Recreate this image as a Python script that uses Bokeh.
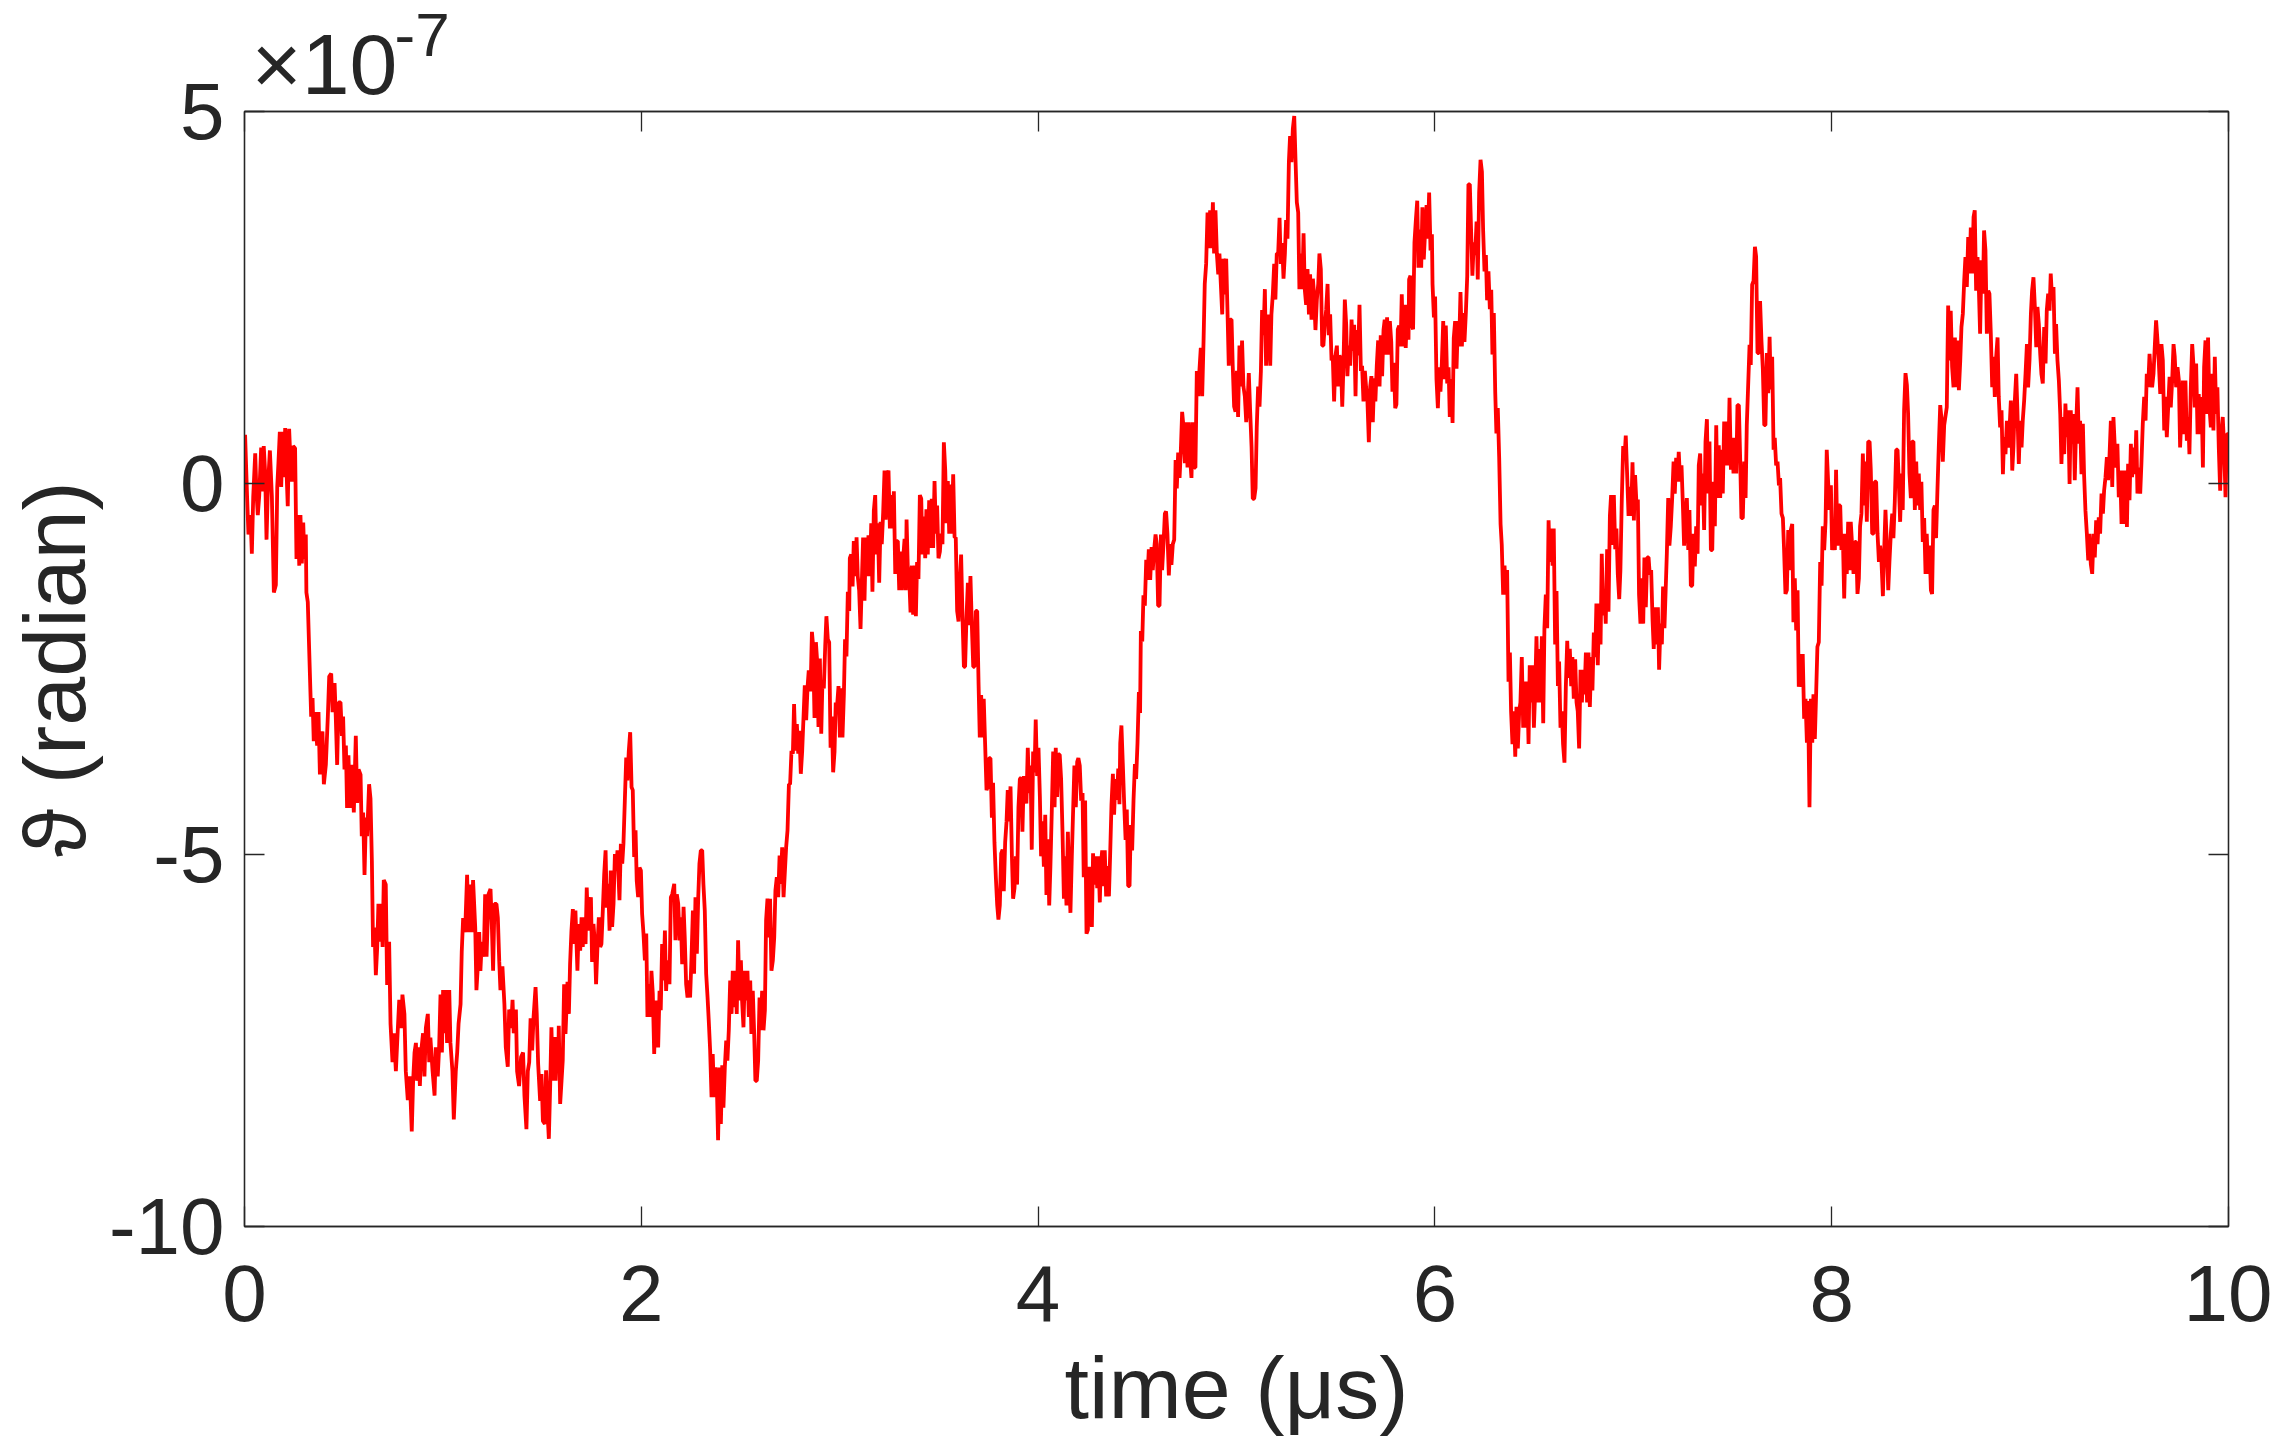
from bokeh.plotting import figure
from bokeh.models import Range1d, FixedTicker, LinearAxis, Title, ColumnDataSource
from bokeh.embed import file_html
from bokeh.resources import INLINE

# (time in microseconds, theta in units of 1e-7 rad)
seg_a = [(0.000,0.47),(0.003,0.65),(0.013,-0.18),(0.020,-0.69),(0.030,-0.43),(0.037,-0.95),(0.044,-0.18),(0.054,0.40),(0.060,-0.11),(0.067,-0.43),(0.074,-0.18),(0.084,0.48),(0.091,-0.11),(0.097,0.50),(0.104,0.15),(0.111,-0.76),(0.118,-0.05),(0.128,0.44),(0.138,-0.18),(0.148,-1.47),(0.158,-1.37),(0.165,-0.05),(0.171,0.27),(0.178,0.69),(0.185,-0.05),(0.192,0.69),(0.198,0.08),(0.205,0.74),(0.212,0.15),(0.218,-0.31),(0.225,0.73),(0.232,0.27),(0.239,0.02),(0.245,0.50),(0.255,0.47),(0.262,-1.02),(0.269,-0.43),(0.276,-1.11),(0.282,-0.43),(0.289,-1.08),(0.296,-0.53),(0.302,-1.02),(0.309,-0.69),(0.312,-1.47),(0.319,-1.60),(0.326,-2.24),(0.336,-3.14),(0.343,-2.89),(0.349,-3.47),(0.356,-3.08),(0.366,-3.53),(0.373,-3.08),(0.380,-3.92),(0.386,-3.40),(0.393,-3.34),(0.400,-4.05),(0.410,-3.79),(0.420,-3.14),(0.427,-2.60),(0.437,-2.56),(0.444,-3.08),(0.454,-2.69),(0.460,-3.14),(0.467,-3.79),(0.474,-2.95),(0.484,-2.95),(0.491,-3.40),(0.497,-3.14),(0.504,-3.85),(0.511,-3.53),(0.517,-4.37),(0.524,-3.66),(0.531,-4.37),(0.541,-3.79),(0.551,-4.43),(0.561,-3.40),(0.568,-4.30),(0.575,-3.85),(0.585,-3.92),(0.591,-4.75),(0.598,-4.43),(0.605,-5.27),(0.612,-4.50),(0.618,-4.75),(0.628,-4.05),(0.635,-4.24),(0.642,-5.08),(0.648,-6.24),(0.655,-5.98),(0.662,-6.62),(0.669,-6.24),(0.675,-5.66),(0.682,-6.17),(0.689,-5.66),(0.696,-6.24),(0.702,-5.34),(0.712,-5.40),(0.719,-6.75),(0.729,-6.17),(0.736,-7.27),(0.746,-7.79),(0.753,-7.40),(0.763,-7.91),(0.773,-7.33),(0.780,-6.95),(0.790,-7.33),(0.796,-6.88),(0.806,-7.14),(0.813,-7.91),(0.823,-8.30),(0.833,-7.98),(0.843,-8.72),(0.850,-8.04),(0.857,-7.66),(0.864,-7.53),(0.870,-8.04),(0.877,-7.59),(0.884,-8.11),(0.890,-7.66),(0.900,-7.40),(0.907,-7.98),(0.914,-7.33),(0.924,-7.14),(0.931,-7.79),(0.937,-7.46),(0.948,-7.91),(0.958,-8.24),(0.964,-7.59),(0.974,-7.98),(0.981,-7.59),(0.988,-6.88),(0.995,-7.66),(1.001,-6.82),(1.008,-7.40),(1.015,-6.82),(1.021,-7.53),(1.032,-6.82),(1.038,-7.53),(1.048,-7.91),(1.055,-8.56),(1.065,-7.91),(1.072,-7.66),(1.079,-7.27),(1.089,-7.01),(1.095,-6.30),(1.102,-5.85),(1.112,-6.04),(1.122,-5.27),(1.129,-6.04),(1.139,-5.40),(1.146,-6.04),(1.152,-5.34),(1.163,-5.98),(1.169,-6.82),(1.176,-6.50),(1.183,-6.04),(1.189,-6.56),(1.196,-6.17),(1.206,-6.37),(1.213,-5.53),(1.220,-6.37),(1.230,-5.53),(1.240,-5.46),(1.247,-5.98),(1.253,-6.56),(1.260,-5.66),(1.270,-5.66),(1.277,-5.85),(1.284,-6.43),(1.290,-6.82),(1.300,-6.50),(1.310,-7.01),(1.317,-7.59),(1.327,-7.85),(1.334,-7.08),(1.344,-7.33),(1.351,-6.95),(1.357,-7.40),(1.368,-7.08),(1.374,-7.91),(1.384,-8.11),(1.394,-7.72),(1.404,-7.66),(1.411,-8.24),(1.421,-8.69),(1.428,-7.91),(1.435,-7.79),(1.442,-7.20)]

seg_b = [(1.450,-7.63),(1.457,-7.18),(1.467,-6.78),(1.473,-7.14),(1.480,-7.81),(1.490,-8.31),(1.497,-7.95),(1.504,-8.58),(1.514,-8.62),(1.520,-7.90),(1.527,-8.44),(1.534,-8.82),(1.541,-8.08),(1.547,-7.32),(1.554,-8.04),(1.561,-7.45),(1.568,-8.04),(1.574,-7.45),(1.581,-7.90),(1.584,-7.30),(1.591,-8.35),(1.598,-8.04),(1.604,-7.77),(1.611,-6.74),(1.618,-7.41),(1.628,-6.71),(1.635,-7.14),(1.641,-6.47),(1.648,-6.02),(1.655,-5.73),(1.662,-6.20),(1.668,-5.75),(1.678,-6.56),(1.685,-5.93),(1.692,-6.29),(1.699,-5.84),(1.705,-6.24),(1.712,-5.84),(1.719,-6.20),(1.725,-5.44),(1.732,-6.02),(1.739,-5.75),(1.746,-5.57),(1.752,-6.44),(1.759,-5.93),(1.766,-6.20),(1.772,-6.74),(1.779,-6.24),(1.786,-5.84),(1.793,-6.24),(1.799,-6.20),(1.806,-5.75),(1.813,-5.26),(1.820,-4.94),(1.826,-5.71),(1.833,-5.39),(1.840,-6.02),(1.846,-5.21),(1.853,-5.97),(1.860,-5.66),(1.867,-4.99),(1.873,-5.21),(1.880,-4.94),(1.890,-5.61),(1.897,-4.85),(1.904,-5.12),(1.910,-4.85),(1.917,-4.27),(1.924,-3.69),(1.930,-4.00),(1.937,-3.60),(1.944,-3.35),(1.951,-4.09),(1.957,-4.13),(1.964,-5.03),(1.971,-4.67),(1.977,-5.35),(1.984,-5.57),(1.991,-5.17),(1.998,-5.21),(2.004,-5.79),(2.011,-6.06),(2.018,-6.42),(2.025,-6.06),(2.031,-7.18),(2.038,-6.74),(2.045,-7.18),(2.051,-6.56),(2.058,-6.87),(2.065,-7.68),(2.072,-6.96),(2.078,-7.18),(2.085,-7.59),(2.092,-6.83),(2.098,-7.09),(2.105,-6.20),(2.112,-6.69),(2.119,-6.02),(2.125,-6.83),(2.132,-6.42),(2.142,-6.74),(2.149,-5.57),(2.156,-5.53),(2.166,-5.39),(2.172,-6.15),(2.179,-5.53),(2.186,-5.66),(2.193,-6.15),(2.199,-5.84),(2.206,-6.47),(2.213,-5.70),(2.219,-6.11),(2.226,-6.74),(2.233,-6.92),(2.240,-6.69),(2.246,-6.92),(2.253,-6.38),(2.260,-5.75),(2.266,-6.60),(2.273,-5.57),(2.280,-6.33),(2.287,-5.57),(2.293,-5.12),(2.300,-4.94),(2.307,-4.94),(2.313,-5.39),(2.320,-5.75),(2.327,-6.60),(2.334,-6.92),(2.340,-7.23),(2.347,-7.63),(2.354,-8.26),(2.360,-7.68),(2.367,-8.26),(2.374,-7.86),(2.381,-8.13),(2.387,-8.84),(2.394,-7.86),(2.401,-8.62),(2.408,-7.83),(2.414,-8.40),(2.421,-7.86),(2.428,-7.50),(2.434,-7.77),(2.441,-7.36),(2.448,-6.69),(2.455,-7.14),(2.461,-6.56),(2.468,-7.05),(2.475,-6.56),(2.481,-7.14),(2.488,-6.15),(2.495,-6.96),(2.502,-6.42),(2.508,-6.96),(2.515,-7.32),(2.522,-6.56),(2.528,-6.96),(2.535,-6.56),(2.542,-7.18),(2.549,-6.69),(2.555,-7.41),(2.562,-6.83),(2.569,-7.41),(2.575,-8.04),(2.582,-8.04),(2.589,-7.77),(2.596,-6.92),(2.602,-7.36),(2.609,-6.83),(2.616,-7.36),(2.623,-7.09),(2.629,-5.88),(2.636,-5.59),(2.643,-6.11),(2.649,-5.59),(2.656,-6.56),(2.663,-6.42),(2.670,-6.11),(2.676,-5.48),(2.683,-5.30),(2.690,-5.57),(2.697,-5.01),(2.703,-5.39),(2.710,-4.90),(2.717,-5.57),(2.723,-5.26),(2.730,-4.90),(2.737,-4.67),(2.744,-4.05),(2.750,-4.05),(2.757,-3.60),(2.764,-3.64),(2.770,-2.97),(2.777,-3.60),(2.784,-3.24),(2.791,-3.64),(2.797,-3.33),(2.804,-3.91),(2.811,-3.60),(2.817,-3.19),(2.824,-2.72),(2.831,-3.19),(2.838,-2.74),(2.844,-2.52)]

seg_c = [(2.853,-2.80),(2.860,-2.00),(2.866,-2.19),(2.873,-3.16),(2.880,-2.14),(2.886,-2.38),(2.893,-3.28),(2.900,-2.36),(2.907,-3.37),(2.913,-2.66),(2.920,-2.76),(2.927,-2.19),(2.933,-1.79),(2.940,-2.10),(2.947,-2.14),(2.954,-3.56),(2.960,-3.14),(2.967,-3.89),(2.974,-3.61),(2.980,-2.95),(2.987,-2.99),(2.994,-2.73),(3.001,-3.42),(3.007,-2.76),(3.014,-3.42),(3.021,-2.85),(3.027,-2.10),(3.034,-2.33),(3.041,-1.46),(3.048,-1.72),(3.051,-1.01),(3.058,-0.96),(3.065,-1.39),(3.071,-0.78),(3.078,-1.25),(3.085,-0.73),(3.091,-1.25),(3.098,-1.44),(3.105,-1.96),(3.112,-1.29),(3.118,-0.73),(3.125,-1.58),(3.132,-0.73),(3.138,-1.25),(3.145,-0.70),(3.152,-1.25),(3.159,-0.54),(3.165,-1.46),(3.172,-0.37),(3.179,-0.16),(3.185,-0.96),(3.192,-0.54),(3.199,-1.34),(3.206,-0.52),(3.212,-0.82),(3.219,-0.40),(3.226,0.17),(3.232,-0.49),(3.239,0.10),(3.246,0.17),(3.253,-0.61),(3.259,-0.16),(3.266,-0.61),(3.273,-0.11),(3.280,-1.22),(3.286,-0.78),(3.293,-0.78),(3.300,-1.44),(3.306,-0.92),(3.313,-1.44),(3.320,-1.01),(3.327,-0.75),(3.333,-1.44),(3.337,-0.49),(3.343,-1.11),(3.350,-1.25),(3.357,-1.74),(3.364,-1.11),(3.370,-1.77),(3.377,-1.11),(3.384,-1.79),(3.390,-1.06),(3.397,-1.29),(3.404,-0.16),(3.411,-0.21),(3.417,-0.96),(3.424,-0.45),(3.431,-1.01),(3.437,-0.35),(3.444,-0.96),(3.451,-0.23),(3.458,-0.87),(3.464,-0.21),(3.471,-0.87),(3.478,0.03),(3.485,-0.68),(3.491,-0.30),(3.498,-1.01),(3.505,-0.92),(3.511,-0.68),(3.518,-0.82),(3.525,0.55),(3.532,0.17),(3.538,-0.54),(3.545,0.03),(3.552,-0.68),(3.558,-0.02),(3.565,-0.68),(3.572,0.12),(3.579,-0.73),(3.585,-0.73),(3.592,-1.72),(3.599,-1.86),(3.605,-1.34),(3.612,-0.96),(3.619,-1.81),(3.626,-2.47),(3.632,-2.47),(3.639,-1.81),(3.646,-1.34),(3.652,-1.91),(3.659,-1.25),(3.666,-1.91),(3.673,-2.47),(3.679,-2.47),(3.686,-1.72),(3.693,-1.72),(3.700,-2.71),(3.706,-3.42),(3.713,-2.85),(3.720,-3.42),(3.726,-2.90),(3.733,-3.51),(3.740,-4.13),(3.747,-4.08),(3.753,-3.70),(3.760,-3.70),(3.767,-4.50),(3.773,-4.03),(3.780,-4.83),(3.787,-5.30),(3.794,-5.68),(3.800,-5.87),(3.807,-5.68),(3.814,-4.98),(3.821,-4.93),(3.827,-5.49),(3.834,-4.83),(3.841,-4.55),(3.847,-4.13),(3.854,-4.55),(3.861,-4.08),(3.868,-5.02),(3.874,-5.59),(3.881,-5.45),(3.888,-5.02),(3.894,-5.40),(3.901,-4.36),(3.908,-3.98),(3.915,-3.96),(3.921,-4.69),(3.928,-3.94),(3.935,-4.03),(3.941,-4.31),(3.948,-3.56),(3.955,-4.17),(3.962,-3.80),(3.968,-4.93),(3.975,-3.61),(3.982,-3.89),(3.988,-3.18),(3.995,-3.94),(4.002,-3.56),(4.009,-4.22),(4.015,-5.02),(4.022,-4.55),(4.029,-5.16),(4.036,-4.46),(4.042,-5.54),(4.049,-4.79),(4.056,-5.68),(4.062,-5.16),(4.069,-4.41),(4.076,-3.61),(4.083,-4.36),(4.089,-3.56),(4.096,-4.22),(4.103,-3.65),(4.109,-3.65),(4.116,-3.98),(4.123,-4.69),(4.130,-5.59),(4.136,-5.02),(4.143,-5.68),(4.150,-4.69),(4.156,-5.30),(4.163,-5.78),(4.170,-5.02),(4.177,-4.36),(4.183,-3.80),(4.190,-4.36),(4.197,-3.75),(4.203,-3.70),(4.210,-3.80),(4.217,-4.27),(4.224,-4.17),(4.230,-5.30),(4.237,-4.27),(4.244,-6.06),(4.251,-6.01),(4.257,-5.16),(4.264,-5.49),(4.271,-5.97),(4.277,-4.98),(4.284,-5.40),(4.291,-5.02),(4.298,-5.45),(4.304,-5.02),(4.311,-5.64)]

seg_d = [(4.316,-5.15),(4.323,-4.94),(4.330,-5.42),(4.336,-4.94),(4.343,-5.56),(4.350,-5.15),(4.357,-5.56),(4.363,-5.01),(4.370,-4.32),(4.377,-3.91),(4.383,-4.46),(4.390,-3.98),(4.397,-4.26),(4.404,-3.84),(4.410,-4.32),(4.414,-3.50),(4.420,-3.26),(4.427,-3.78),(4.434,-4.32),(4.441,-4.80),(4.447,-4.39),(4.454,-5.42),(4.461,-5.42),(4.467,-4.60),(4.474,-4.94),(4.481,-4.26),(4.488,-3.78),(4.494,-3.98),(4.501,-3.50),(4.508,-2.81),(4.514,-3.09),(4.518,-1.99),(4.525,-2.13),(4.531,-1.51),(4.538,-1.65),(4.545,-1.03),(4.551,-1.30),(4.558,-0.89),(4.565,-1.30),(4.572,-0.86),(4.578,-1.17),(4.585,-0.89),(4.592,-0.69),(4.598,-0.82),(4.605,-1.65),(4.612,-1.65),(4.619,-0.69),(4.625,-1.17),(4.632,-0.82),(4.639,-0.41),(4.645,-0.38),(4.652,-0.69),(4.659,-1.24),(4.666,-0.82),(4.672,-1.10),(4.679,-0.82),(4.686,-0.76),(4.693,0.31),(4.699,-0.07),(4.706,0.41),(4.713,0.07),(4.719,0.41),(4.726,0.96),(4.733,0.75),(4.740,0.27),(4.746,0.82),(4.753,0.21),(4.760,0.82),(4.766,0.34),(4.773,0.07),(4.780,0.82),(4.787,0.21),(4.793,0.21),(4.800,1.51),(4.807,1.17),(4.813,1.51),(4.820,1.82),(4.827,1.17),(4.834,1.92),(4.840,2.68),(4.847,2.95),(4.854,3.64),(4.860,3.16),(4.867,3.67),(4.874,3.16),(4.881,3.78),(4.887,3.09),(4.894,3.67),(4.901,3.09),(4.908,2.81),(4.914,3.09),(4.921,2.68),(4.928,2.27),(4.934,3.02),(4.941,2.54),(4.948,3.02),(4.955,2.27),(4.961,1.58),(4.968,2.20),(4.975,2.20),(4.981,1.58),(4.988,1.03),(4.995,0.96),(5.002,1.51),(5.008,0.89),(5.015,1.85),(5.022,1.30),(5.028,1.92),(5.035,1.30),(5.042,1.17),(5.049,0.82),(5.055,1.03),(5.062,1.48),(5.069,0.96),(5.076,0.48),(5.082,-0.21),(5.089,-0.21),(5.096,-0.07),(5.102,0.75),(5.109,1.30),(5.116,1.03),(5.123,1.51),(5.129,2.33),(5.136,1.99),(5.143,2.61),(5.149,1.58),(5.156,2.13),(5.163,2.27),(5.170,1.58),(5.176,2.27),(5.183,2.54),(5.190,2.95),(5.196,2.47),(5.203,3.09),(5.210,3.09),(5.217,3.57),(5.223,2.95),(5.230,3.23),(5.237,2.75),(5.244,3.09),(5.250,3.54),(5.257,3.29),(5.264,4.32),(5.270,4.67),(5.277,4.32),(5.284,4.77),(5.291,4.94),(5.297,4.39),(5.304,3.78),(5.311,3.64),(5.317,2.61),(5.324,3.09),(5.331,2.61),(5.338,3.36),(5.344,2.61),(5.351,2.40),(5.358,2.88),(5.365,2.27),(5.371,2.81),(5.378,2.20),(5.385,2.75),(5.391,2.54),(5.398,2.06),(5.405,2.47),(5.412,2.68),(5.418,3.09),(5.425,2.88),(5.432,1.85),(5.438,1.85),(5.445,2.13),(5.452,2.33),(5.459,2.68),(5.465,1.99),(5.472,2.27),(5.479,1.65),(5.485,1.72),(5.492,1.10),(5.499,1.72),(5.506,1.85),(5.512,1.30),(5.519,1.72),(5.526,1.65),(5.533,1.03),(5.539,1.58),(5.546,2.47),(5.553,2.13),(5.559,1.44),(5.566,1.85),(5.573,1.58),(5.580,2.20),(5.586,1.78),(5.593,2.13),(5.600,1.17),(5.606,2.06),(5.613,1.72),(5.620,2.40),(5.627,1.51),(5.633,1.58),(5.640,1.10),(5.647,1.51),(5.653,1.30),(5.660,1.10),(5.667,0.55),(5.674,1.30),(5.680,1.44),(5.687,0.82),(5.694,1.41),(5.700,1.10),(5.707,1.58),(5.714,1.92),(5.721,1.30),(5.727,1.99),(5.734,1.44),(5.741,2.06),(5.747,2.20)]

seg_e = [(5.753,1.73),(5.759,2.23),(5.766,1.73),(5.773,2.18),(5.780,1.90),(5.786,1.23),(5.793,1.62),(5.800,1.01),(5.806,1.06),(5.813,2.07),(5.820,2.12),(5.827,1.84),(5.833,2.54),(5.840,1.84),(5.847,2.40),(5.853,1.82),(5.860,2.40),(5.867,1.93),(5.870,2.74),(5.877,2.79),(5.884,2.12),(5.890,2.07),(5.897,3.24),(5.904,3.54),(5.911,3.80),(5.917,2.90),(5.924,3.41),(5.931,2.90),(5.937,3.71),(5.944,3.01),(5.951,3.41),(5.958,3.74),(5.964,3.29),(5.971,3.91),(5.978,3.13),(5.985,3.35),(5.988,2.68),(5.995,2.23),(6.001,2.51),(6.008,1.40),(6.015,1.01),(6.022,1.56),(6.028,1.23),(6.035,1.62),(6.042,2.18),(6.048,1.40),(6.055,2.12),(6.062,1.34),(6.069,1.56),(6.075,0.89),(6.082,1.40),(6.089,0.81),(6.095,1.95),(6.102,2.18),(6.109,1.54),(6.116,2.18),(6.122,1.84),(6.129,2.57),(6.136,1.84),(6.142,2.29),(6.149,1.90),(6.156,2.29),(6.163,2.79),(6.169,4.02),(6.176,4.02),(6.183,3.35),(6.189,2.79),(6.196,3.24),(6.203,3.07),(6.210,3.52),(6.216,2.74),(6.223,3.91),(6.230,4.35),(6.237,4.19),(6.243,3.41),(6.250,2.85),(6.257,3.07),(6.263,2.46),(6.270,2.85),(6.277,2.34),(6.284,2.60),(6.290,1.73),(6.297,2.29),(6.304,1.23),(6.310,0.67),(6.317,1.01),(6.324,0.34),(6.331,-0.55),(6.337,-0.83),(6.344,-1.50),(6.351,-1.11),(6.357,-1.50),(6.364,-1.17),(6.371,-2.67),(6.378,-2.28),(6.384,-3.07),(6.391,-3.51),(6.398,-3.07),(6.405,-3.68),(6.411,-3.01),(6.418,-3.57),(6.425,-3.07),(6.431,-2.95),(6.438,-2.34),(6.445,-3.29),(6.452,-2.67),(6.458,-3.29),(6.465,-2.67),(6.472,-3.51),(6.478,-2.45),(6.485,-2.95),(6.492,-2.45),(6.499,-3.29),(6.505,-2.84),(6.512,-2.06),(6.519,-2.95),(6.525,-2.23),(6.532,-2.95),(6.539,-2.06),(6.546,-3.23),(6.552,-1.95),(6.559,-1.50),(6.566,-1.95),(6.573,-0.50),(6.579,-1.06),(6.586,-0.61),(6.593,-1.11),(6.599,-0.61),(6.606,-2.17),(6.613,-1.45),(6.620,-2.73),(6.626,-2.40),(6.633,-3.29),(6.640,-3.07),(6.646,-3.51),(6.653,-3.76),(6.660,-2.73),(6.667,-2.12),(6.673,-2.62),(6.680,-2.23),(6.687,-2.73),(6.693,-2.34),(6.700,-2.90),(6.707,-2.37),(6.714,-2.95),(6.720,-3.07),(6.727,-3.57),(6.734,-2.51),(6.741,-2.95),(6.747,-2.51),(6.754,-2.84),(6.761,-2.28),(6.767,-2.95),(6.774,-2.28),(6.781,-3.01),(6.788,-2.34),(6.794,-2.79),(6.801,-2.01),(6.808,-2.34),(6.814,-1.62),(6.821,-2.45),(6.828,-1.62),(6.835,-2.17),(6.841,-0.95),(6.848,-1.78),(6.855,-1.45),(6.861,-1.89),(6.868,-0.89),(6.875,-1.73),(6.882,-0.44),(6.888,-0.16),(6.895,-0.83),(6.902,-0.16),(6.909,-0.89),(6.915,-0.61),(6.922,-1.23),(6.929,-1.56),(6.935,-1.17),(6.942,-0.22),(6.949,0.50),(6.956,0.34),(6.962,0.64),(6.969,0.11),(6.976,-0.44),(6.982,-0.05),(6.989,-0.44),(6.996,0.28),(7.003,-0.50),(7.009,0.11),(7.016,-0.28),(7.023,-0.22),(7.029,-1.50),(7.036,-1.89),(7.043,-1.28),(7.050,-1.89),(7.056,-1.00),(7.063,-1.67),(7.070,-1.00),(7.077,-1.00),(7.083,-1.23),(7.090,-1.17),(7.097,-1.84),(7.103,-2.23),(7.110,-1.67),(7.117,-2.17),(7.124,-1.67),(7.130,-2.51),(7.137,-1.89),(7.144,-2.17),(7.150,-1.39),(7.157,-1.95)]

seg_f = [(7.169,-0.95),(7.176,-0.20),(7.182,-0.84),(7.189,-0.58),(7.196,-0.20),(7.203,0.29),(7.209,-0.14),(7.216,0.34),(7.223,0.02),(7.229,0.42),(7.236,0.02),(7.243,0.24),(7.250,-0.30),(7.256,-0.84),(7.263,-0.47),(7.270,-0.20),(7.277,-0.90),(7.283,-0.36),(7.290,-1.38),(7.297,-1.38),(7.303,-0.68),(7.310,-1.12),(7.317,-0.58),(7.324,-0.95),(7.330,0.24),(7.337,0.40),(7.344,-0.30),(7.350,0.13),(7.357,-0.63),(7.364,0.56),(7.371,0.86),(7.377,-0.14),(7.384,0.56),(7.391,-0.90),(7.398,-0.90),(7.404,0.02),(7.411,-0.58),(7.418,0.78),(7.424,-0.20),(7.431,0.51),(7.438,-0.20),(7.445,0.45),(7.451,-0.14),(7.458,0.83),(7.465,0.24),(7.471,0.83),(7.478,0.24),(7.485,1.15),(7.492,0.18),(7.498,0.61),(7.505,0.13),(7.512,0.61),(7.519,0.13),(7.525,1.05),(7.532,1.05),(7.539,0.29),(7.545,-0.47),(7.552,-0.47),(7.559,0.29),(7.566,-0.20),(7.572,0.78),(7.579,1.32),(7.586,1.86),(7.592,1.59),(7.599,2.67),(7.606,2.72),(7.613,3.18),(7.619,3.05),(7.626,1.75),(7.633,1.75),(7.639,2.45),(7.646,1.91),(7.653,1.53),(7.660,0.78),(7.666,0.78),(7.673,1.75),(7.680,1.21),(7.687,1.97),(7.693,1.26),(7.700,1.70),(7.707,0.45),(7.713,0.61),(7.720,0.24),(7.727,0.29),(7.734,-0.03),(7.740,0.07),(7.747,-0.41),(7.754,-0.47),(7.760,-0.90),(7.767,-1.49),(7.774,-1.44),(7.781,-0.63),(7.787,-1.17),(7.794,-0.63),(7.801,-0.55),(7.807,-1.87),(7.814,-1.28),(7.821,-1.98),(7.828,-1.44),(7.834,-2.74),(7.841,-2.30),(7.848,-2.74),(7.854,-2.30),(7.861,-3.17),(7.868,-2.90),(7.875,-3.49),(7.881,-2.93),(7.888,-4.36),(7.895,-2.90),(7.902,-3.49),(7.908,-2.84),(7.915,-3.44),(7.922,-2.79),(7.928,-2.20),(7.935,-2.14),(7.942,-1.06),(7.949,-1.38),(7.955,-0.58),(7.962,-0.90),(7.969,-0.52),(7.975,0.45),(7.982,0.02),(7.989,-0.36),(7.996,-0.03),(8.002,-0.90),(8.009,-0.63),(8.016,-0.90),(8.022,0.18),(8.029,-0.84),(8.036,-0.30),(8.043,-0.30),(8.049,-0.90),(8.056,-0.68),(8.063,-1.55),(8.070,-0.68),(8.076,-1.22),(8.083,-0.52),(8.090,-1.17),(8.096,-0.52),(8.103,-0.84),(8.110,-1.22),(8.117,-0.79),(8.123,-0.79),(8.130,-1.49),(8.137,-1.28),(8.143,-0.58),(8.150,-0.41),(8.157,0.40),(8.164,-0.30),(8.170,0.29),(8.177,-0.52),(8.184,0.56),(8.191,0.56),(8.197,0.18),(8.204,-0.68),(8.211,-0.68),(8.217,0.02),(8.224,0.02),(8.231,-0.68),(8.238,-1.06),(8.244,-0.84),(8.251,-1.06),(8.258,-1.52),(8.264,-0.95),(8.271,-0.36),(8.278,-0.84),(8.285,-1.44),(8.291,-1.06),(8.298,-0.68),(8.305,-0.41),(8.311,-0.74),(8.318,-0.25),(8.325,0.45),(8.332,0.45),(8.338,0.02),(8.345,-0.52),(8.352,0.13),(8.358,-0.36),(8.365,0.99),(8.372,1.48),(8.379,1.32),(8.385,0.94),(8.392,0.13),(8.399,-0.20),(8.405,0.56),(8.412,0.56),(8.419,-0.36),(8.426,0.29),(8.432,-0.30),(8.439,0.13),(8.446,-0.36),(8.452,0.02),(8.459,-0.79),(8.466,-0.47),(8.473,-1.22),(8.479,-0.68),(8.486,-1.22),(8.493,-0.84),(8.500,-1.44),(8.506,-1.49),(8.513,-0.36),(8.520,-0.30),(8.526,-0.74),(8.533,-0.09),(8.540,0.51),(8.547,1.05),(8.553,0.88),(8.560,0.29),(8.567,0.78)]

seg_g = [(8.580,1.02),(8.587,2.39),(8.594,1.65),(8.600,2.32),(8.607,1.56),(8.614,1.29),(8.621,1.96),(8.627,1.29),(8.634,1.92),(8.641,1.25),(8.648,1.65),(8.654,2.10),(8.661,2.28),(8.668,2.73),(8.674,3.04),(8.681,2.64),(8.688,3.31),(8.695,2.82),(8.701,3.44),(8.708,2.82),(8.715,3.58),(8.721,3.67),(8.728,2.59),(8.735,3.04),(8.742,2.59),(8.748,2.01),(8.755,3.00),(8.762,2.55),(8.768,3.40),(8.775,3.13),(8.782,2.01),(8.789,2.59),(8.795,2.55),(8.802,2.01),(8.809,1.29),(8.816,1.70),(8.822,1.16),(8.829,1.70),(8.836,1.96),(8.842,1.16),(8.849,0.75),(8.856,0.98),(8.863,0.12),(8.869,0.62),(8.876,0.39),(8.883,0.84),(8.889,0.48),(8.896,0.71),(8.903,1.11),(8.910,0.17),(8.916,0.48),(8.923,1.11),(8.930,1.47),(8.936,0.98),(8.943,0.26),(8.950,0.84),(8.957,0.48),(8.963,0.84),(8.970,1.11),(8.977,1.47),(8.984,1.87),(8.990,1.29),(8.997,1.65),(9.004,2.28),(9.010,2.59),(9.017,2.77),(9.024,2.37),(9.031,1.83),(9.037,2.37),(9.044,2.14),(9.051,1.74),(9.057,1.47),(9.064,1.34),(9.071,2.10),(9.078,1.61),(9.084,2.32),(9.091,2.55),(9.098,2.32),(9.104,2.82),(9.111,2.46),(9.118,2.64),(9.125,1.74),(9.131,2.14),(9.138,1.65),(9.145,1.38),(9.152,0.93),(9.158,0.26),(9.165,0.89),(9.172,0.39),(9.178,1.07),(9.185,0.62),(9.192,0.98),(9.199,-0.01),(9.205,0.98),(9.212,0.53),(9.219,0.93),(9.225,0.04),(9.232,0.75),(9.239,1.29),(9.246,0.53),(9.252,0.84),(9.259,0.12),(9.266,0.80),(9.272,0.12),(9.279,-0.37),(9.286,-0.68),(9.293,-1.04),(9.299,-0.68),(9.306,-1.09),(9.313,-1.22),(9.320,-0.68),(9.326,-1.00),(9.333,-0.50),(9.340,-0.82),(9.346,-0.46),(9.353,-0.68),(9.360,-0.14),(9.367,-0.41),(9.373,-0.10),(9.380,0.08),(9.387,0.35),(9.393,0.04),(9.400,0.35),(9.407,0.84),(9.414,-0.05),(9.420,0.89),(9.427,0.48),(9.434,0.21),(9.440,0.53),(9.447,-0.19),(9.454,0.17),(9.461,-0.55),(9.467,0.17),(9.474,-0.55),(9.481,0.17),(9.488,-0.59),(9.494,0.26),(9.501,-0.23),(9.508,0.53),(9.514,0.08),(9.521,0.48),(9.528,0.12),(9.535,0.71),(9.541,-0.14),(9.548,0.21),(9.555,-0.14),(9.561,0.26),(9.568,0.80),(9.575,1.16),(9.582,0.84),(9.588,1.47),(9.595,1.29),(9.602,1.74),(9.608,1.47),(9.615,1.29),(9.622,1.47),(9.629,1.87),(9.635,2.19),(9.642,1.92),(9.649,1.61),(9.656,1.20),(9.662,1.87),(9.669,1.65),(9.676,0.71),(9.682,1.16),(9.689,0.62),(9.696,1.02),(9.703,1.43),(9.709,1.02),(9.716,1.38),(9.723,1.87),(9.729,1.70),(9.736,1.29),(9.743,1.56),(9.750,1.38),(9.756,0.48),(9.763,0.93),(9.770,1.38),(9.776,0.66),(9.783,1.38),(9.790,0.57),(9.797,0.89),(9.803,0.39),(9.810,1.29),(9.817,1.87),(9.824,1.56),(9.830,1.02),(9.837,1.61),(9.844,0.66),(9.850,1.20),(9.857,0.66),(9.864,1.16),(9.871,0.21),(9.877,1.56),(9.884,1.92),(9.891,0.93),(9.897,1.96),(9.904,1.02),(9.911,0.75),(9.918,1.47),(9.924,0.71),(9.931,1.70),(9.938,0.93),(9.944,1.29),(9.951,0.48),(9.958,-0.10),(9.965,0.71),(9.971,0.89),(9.978,0.48),(9.985,-0.19),(9.992,0.66),(10.000,0.66)]

x_ticks = [0, 2, 4, 6, 8, 10]
y_ticks = [-10, -5, 0, 5]
y_tick_labels = {-10: "-10", -5: "-5", 0: "0", 5: "5"}
x_label = "time (μs)"
y_label = "ϑ (radian)"
exponent_base = "×10"
exponent_power = "-7"

segments = [seg_a, seg_b, seg_c, seg_d, seg_e, seg_f, seg_g]
points = [pt for seg in segments for pt in seg]
time_us = [pt[0] for pt in points]
theta_e7 = [pt[1] for pt in points]

TXT = "#262626"
FONT = "Liberation Sans"
W, H = 2272, 1442

p = figure(width=W, height=H, output_backend="svg", toolbar_location=None,
           x_range=Range1d(0, 10), y_range=Range1d(-10, 5),
           min_border_left=244, min_border_right=W - 2228,
           min_border_top=111, min_border_bottom=H - 1226)
p.background_fill_color = "white"
p.border_fill_color = "white"
p.outline_line_color = TXT
p.outline_line_width = 1.3
p.grid.visible = False

src = ColumnDataSource(dict(t=time_us, v=theta_e7))
p.line("t", "v", source=src, line_color="#ff0000", line_width=3.8)

def style_axis(ax, ticks, show_labels):
    ax.ticker = FixedTicker(ticks=ticks)
    ax.major_tick_in = 20
    ax.major_tick_out = 0
    ax.minor_tick_line_color = None
    ax.axis_line_color = TXT
    ax.axis_line_width = 1.3
    ax.major_tick_line_color = TXT
    ax.major_tick_line_width = 1.3
    if show_labels:
        ax.major_label_text_font = FONT
        ax.major_label_text_font_size = "80px"
        ax.major_label_text_color = TXT
        ax.axis_label_text_font = FONT
        ax.axis_label_text_font_size = "88px"
        ax.axis_label_text_font_style = "normal"
        ax.axis_label_text_color = TXT
    else:
        ax.major_label_text_font_size = "1px"
        ax.major_label_text_color = None
        ax.major_label_standoff = 0

xa = p.xaxis[0]
ya = p.yaxis[0]
style_axis(xa, x_ticks, True)
style_axis(ya, y_ticks, True)
xa.major_label_standoff = 39
ya.major_label_standoff = 20
ya.major_label_overrides = y_tick_labels
xa.axis_label = x_label
ya.axis_label = y_label
xa.axis_label_standoff = 14
ya.axis_label_standoff = 2

ra = LinearAxis()
style_axis(ra, y_ticks, False)
p.add_layout(ra, "right")
ta = LinearAxis()
style_axis(ta, x_ticks, False)
p.add_layout(ta, "above")

p.add_layout(Title(text=exponent_base, align="left", offset=7, standoff=0,
                   text_font=FONT, text_font_size="86px", text_font_style="normal",
                   text_color=TXT), "above")
p.add_layout(Title(text=exponent_power, align="left", offset=150, standoff=-85,
                   text_font=FONT, text_font_size="62px", text_font_style="normal",
                   text_color=TXT), "above")

open("out.html", "w").write(file_html(p, INLINE))
